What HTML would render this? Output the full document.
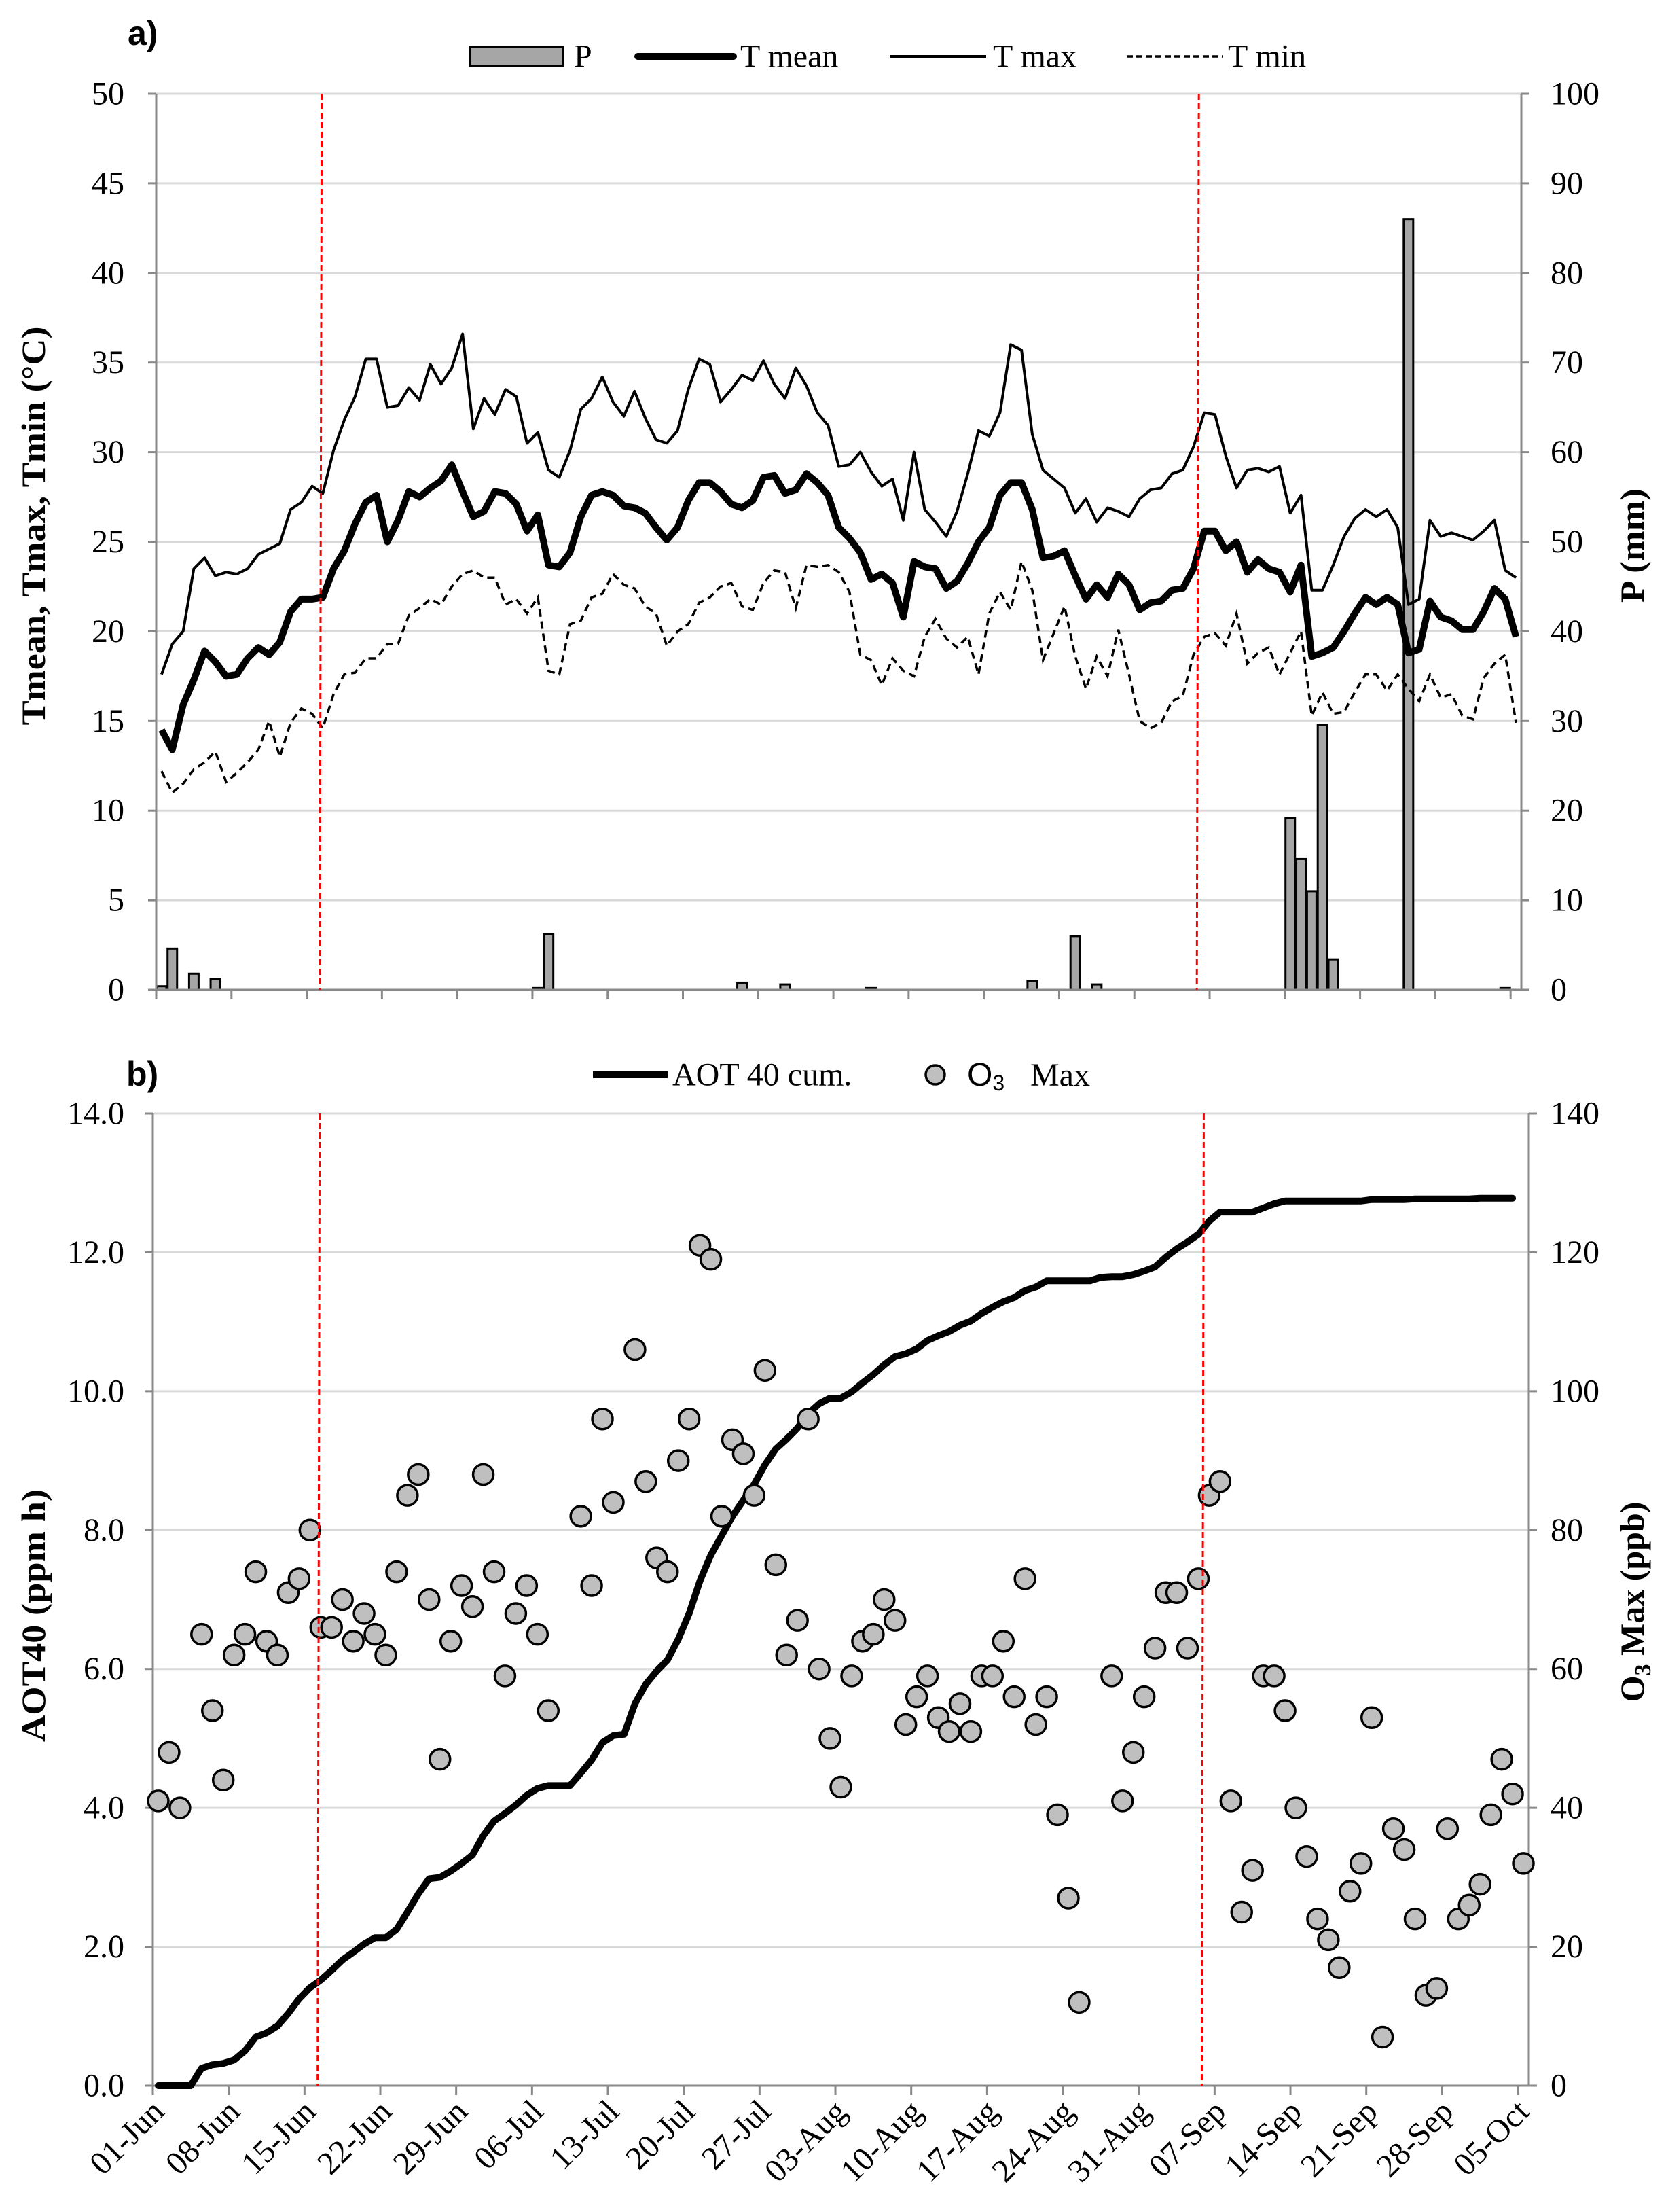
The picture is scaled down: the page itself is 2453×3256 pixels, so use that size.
<!DOCTYPE html>
<html><head><meta charset="utf-8"><style>
html,body{margin:0;padding:0;background:#fff;}
svg{display:block;}
text{font-family:"Liberation Serif",serif;fill:#000;}
</style></head><body>
<svg id="chart" xmlns="http://www.w3.org/2000/svg" width="2453" height="3256" viewBox="0 0 2453 3256">
<rect x="0" y="0" width="2453" height="3256" fill="#fff"/>
<text x="188" y="66" style="font-family:'Liberation Sans',sans-serif;font-weight:bold;font-size:50px">a)</text>
<text x="186" y="1598" style="font-family:'Liberation Sans',sans-serif;font-weight:bold;font-size:50px">b)</text>
</svg>
<script>
const days = 127;
const xTickLabels = ["01-Jun","08-Jun","15-Jun","22-Jun","29-Jun","06-Jul","13-Jul","20-Jul","27-Jul","03-Aug","10-Aug","17-Aug","24-Aug","31-Aug","07-Sep","14-Sep","21-Sep","28-Sep","05-Oct"];
const tempTicks = [0,5,10,15,20,25,30,35,40,45,50];
const precipTicks = [0,10,20,30,40,50,60,70,80,90,100];
const aotTicks = ["0.0","2.0","4.0","6.0","8.0","10.0","12.0","14.0"];
const o3Ticks = [0,20,40,60,80,100,120,140];
const phaseDays = [14.9, 96.5];
const tMean = [14.5,13.4,15.9,17.3,18.9,18.3,17.5,17.6,18.5,19.1,18.7,19.4,21.1,21.8,21.8,21.9,23.5,24.5,26.0,27.2,27.6,25.0,26.2,27.8,27.5,28.0,28.4,29.3,27.8,26.4,26.7,27.8,27.7,27.1,25.6,26.5,23.7,23.6,24.4,26.4,27.6,27.8,27.6,27.0,
26.9,26.6,25.8,25.1,25.8,27.3,28.3,28.3,27.8,27.1,26.9,27.3,28.6,28.7,27.7,27.9,28.8,28.3,27.6,25.8,25.2,24.4,22.9,23.2,22.7,20.8,23.9,23.6,23.5,22.4,22.8,23.8,25.0,25.8,27.6,28.3,28.3,26.8,24.1,24.2,24.5,23.1,21.8,
22.6,21.9,23.2,22.6,21.2,21.6,21.7,22.3,22.4,23.5,25.6,25.6,24.5,25.0,23.3,24.0,23.5,23.3,22.2,23.7,18.6,18.8,19.1,20.0,21.0,21.9,21.5,21.9,21.5,18.8,19.0,21.7,20.8,20.6,20.1,20.1,21.1,22.4,21.8,19.7];
const tMax = [17.6,19.3,20.0,23.5,24.1,23.1,23.3,23.2,23.5,24.3,24.6,24.9,26.8,27.2,28.1,27.7,30.1,31.8,33.1,35.2,35.2,32.5,32.6,33.6,32.9,34.9,33.8,34.7,36.6,31.3,33.0,32.1,33.5,33.1,30.5,31.1,29.0,28.6,30.1,32.4,33.0,34.2,32.8,32.0,
33.4,31.9,30.7,30.5,31.2,33.5,35.2,34.9,32.8,33.5,34.3,34.0,35.1,33.8,33.0,34.7,33.7,32.2,31.5,29.2,29.3,30.0,28.9,28.1,28.5,26.2,30.0,26.8,26.1,25.3,26.7,28.8,31.2,30.9,32.2,36.0,35.7,31.0,29.0,28.5,28.0,26.6,27.4,
26.1,26.9,26.7,26.4,27.4,27.9,28.0,28.8,29.0,30.3,32.2,32.1,29.8,28.0,29.0,29.1,28.9,29.2,26.6,27.6,22.3,22.3,23.7,25.3,26.3,26.8,26.4,26.8,25.8,21.5,21.8,26.2,25.3,25.5,25.3,25.1,25.6,26.2,23.4,23.0];
const tMin = [12.2,11.0,11.5,12.3,12.7,13.3,11.6,12.1,12.7,13.4,15.0,13.0,14.9,15.7,15.4,14.6,16.5,17.6,17.7,18.5,18.5,19.3,19.3,20.9,21.3,21.8,21.5,22.5,23.2,23.4,23.0,23.0,21.5,21.8,21.0,21.9,17.8,17.6,20.4,20.6,21.9,22.1,23.2,22.6,
22.4,21.4,21.0,19.2,20.0,20.4,21.6,21.9,22.5,22.7,21.4,21.2,22.7,23.4,23.3,21.3,23.7,23.6,23.7,23.3,22.2,18.7,18.4,17.0,18.5,17.8,17.5,19.7,20.7,19.6,19.1,19.7,17.6,21.0,22.2,21.2,23.9,22.3,18.4,19.9,21.4,18.6,16.8,
18.6,17.5,20.1,17.6,15.0,14.6,14.9,16.1,16.4,18.7,19.7,19.9,19.2,21.0,18.2,18.8,19.1,17.6,18.8,20.0,15.3,16.6,15.4,15.5,16.6,17.6,17.6,16.7,17.6,16.8,16.1,17.6,16.3,16.5,15.3,15.1,17.4,18.2,18.7,14.9];
const precip = [0.4,4.6,0,1.8,0,1.2,0,0,0,0,0,0,0,0,0,0,0,0,0,0,0,0,0,0,0,0,0,0,0,0,0,0,0,0,0,0.2,6.2,0,0,0,
0,0,0,0,0,0,0,0,0,0,0,0,0,0,0.8,0,0,0,0.6,0,0,0,0,0,0,0,0.2,0,0,0,0,0,0,0,0,0,0,0,0,0,
0,1.0,0,0,0,6.0,0,0.6,0,0,0,0,0,0,0,0,0,0,0,0,0,0,0,0,0,19.2,14.6,11.0,29.6,3.4,0,0,0,0,0,0,86,0,0,0,
0,0,0,0,0,0.2,0];
const o3Max = [41,48,40,null,65,54,44,62,65,74,64,62,71,73,80,66,66,70,64,68,65,62,74,85,88,70,47,64,72,69,88,74,59,68,72,65,54,null,null,82,72,96,84,
null,106,87,76,74,90,96,121,119,82,93,91,85,103,75,62,67,96,60,50,43,59,64,65,70,67,52,56,59,53,51,55,51,59,59,64,56,73,52,56,39,27,12,
null,null,59,41,48,56,63,71,71,63,73,85,87,41,25,31,59,59,54,40,33,24,21,17,28,32,53,7,37,34,24,13,14,37,24,26,29,39,47,42,32];
const aotCum = [0,0,0,0,0.25,0.3,0.32,0.37,0.5,0.7,0.76,0.86,1.04,1.25,1.41,1.52,1.66,1.81,1.92,2.04,2.13,2.13,2.25,2.5,2.76,2.98,3.0,3.09,3.2,3.32,3.6,3.81,3.92,4.04,4.18,4.28,4.32,4.32,4.32,4.5,4.69,4.94,5.04,5.06,5.5,
5.78,5.97,6.13,6.43,6.8,7.27,7.64,7.92,8.2,8.43,8.66,8.94,9.17,9.31,9.47,9.68,9.82,9.9,9.9,9.99,10.12,10.24,10.38,10.5,10.54,10.61,10.73,10.8,10.86,10.95,11.01,11.12,11.21,11.29,11.35,11.45,11.5,11.59,11.59,11.59,11.59,11.59,11.64,11.65,
11.65,11.68,11.73,11.79,11.93,12.05,12.15,12.26,12.45,12.58,12.58,12.58,12.58,12.64,12.7,12.74,12.74,12.74,12.74,12.74,12.74,12.74,12.74,12.76,12.76,12.76,12.76,12.77,12.77,12.77,12.77,12.77,12.77,12.78,12.78,12.78,12.78];

const NS = "http://www.w3.org/2000/svg";
const svg = document.getElementById("chart");
function mk(tag, attrs, parent){
  const e = document.createElementNS(NS, tag);
  for (const k in attrs) e.setAttribute(k, attrs[k]);
  (parent || svg).appendChild(e);
  return e;
}
const A = {l:230, r:2240, t:138, b:1457};
const B = {l:225, r:2251, t:1639, b:3070};
function xA(d){ return A.l + (d + 0.5) * (A.r - A.l) / days; }
function xB(d){ return B.l + (d + 0.5) * (B.r - B.l) / days; }
function yT(v){ return A.b - v / 50 * (A.b - A.t); }
function yP(v){ return A.b - v / 100 * (A.b - A.t); }
function yAot(v){ return B.b - v / 14 * (B.b - B.t); }
function yO3(v){ return B.b - v / 140 * (B.b - B.t); }

/* ---------- Panel A ---------- */
const gA = mk("g", {});


tempTicks.forEach((v, i) => {
  const y = yT(v);
  if (v > 0) {
    const g = mk("line", {x1:A.l, x2:A.r, y1:y, y2:y, stroke:"#d9d9d9", "stroke-width":3}, gA);
    
    
  }
  mk("line", {x1:A.l-12, x2:A.l, y1:y, y2:y, stroke:"#898989", "stroke-width":3}, gA);
  mk("line", {x1:A.r, x2:A.r+12, y1:y, y2:y, stroke:"#898989", "stroke-width":3}, gA);
  const t = mk("text", {x:183, y:y, "text-anchor":"end", "dominant-baseline":"central", "font-size":48}, gA);
  t.textContent = v;
  
  
  const t2 = mk("text", {x:2283, y:y, "text-anchor":"start", "dominant-baseline":"central", "font-size":48}, gA);
  t2.textContent = precipTicks[i];
  
  
});
for (let k = 0; k <= 18; k++) {
  const x = A.l + k * 7 * (A.r - A.l) / days;
  mk("line", {x1:x, x2:x, y1:A.b, y2:A.b+14, stroke:"#898989", "stroke-width":3}, gA);
}
precip.forEach((v, d) => {
  if (!v) return;
  const b = mk("rect", {x:xA(d)-7, y:yP(v), width:14, height:A.b-yP(v), fill:"#a6a6a6", stroke:"#000", "stroke-width":3}, gA);
  
  
});
mk("line", {x1:A.l, x2:A.l, y1:A.t, y2:A.b, stroke:"#898989", "stroke-width":3}, gA);
mk("line", {x1:A.r, x2:A.r, y1:A.t, y2:A.b, stroke:"#898989", "stroke-width":3}, gA);
mk("line", {x1:A.l, x2:A.r, y1:A.b, y2:A.b, stroke:"#898989", "stroke-width":3}, gA);
function pathFrom(arr, xf, yf){
  let s = "", pen = false;
  arr.forEach((v, d) => {
    if (v === null) { pen = false; return; }
    s += (pen ? "L" : "M") + xf(d).toFixed(1) + "," + yf(v).toFixed(1);
    pen = true;
  });
  return s;
}
const lmin = mk("path", {d:pathFrom(tMin, xA, yT), fill:"none", stroke:"#000", "stroke-width":3.5, "stroke-dasharray":"11,7"}, gA);


const lmax = mk("path", {d:pathFrom(tMax, xA, yT), fill:"none", stroke:"#000", "stroke-width":4, "stroke-linejoin":"round"}, gA);


const lmean = mk("path", {d:pathFrom(tMean, xA, yT), fill:"none", stroke:"#000", "stroke-width":10, "stroke-linejoin":"round"}, gA);


phaseDays.forEach(d => {
  const x = xA(d);
  const l = mk("line", {x1:x, x2:x-3, y1:A.t, y2:A.b, stroke:"#ff0000", "stroke-width":3, "stroke-dasharray":"9,5"}, gA);
  
  
});
const tA = mk("text", {transform:"translate(66,774) rotate(-90)", "text-anchor":"middle", "font-size":50, "font-weight":"bold", textLength:587, lengthAdjust:"spacingAndGlyphs"}, gA);
tA.textContent = "Tmean, Tmax, Tmin (°C)";


const tP = mk("text", {transform:"translate(2420,803) rotate(-90)", "text-anchor":"middle", "font-size":50, "font-weight":"bold", textLength:168, lengthAdjust:"spacingAndGlyphs"}, gA);
tP.textContent = "P (mm)";


// legend A
const legA = mk("g", {}, gA);


mk("rect", {x:692, y:69, width:137, height:28, fill:"#a6a6a6", stroke:"#000", "stroke-width":3}, legA);
mk("line", {x1:939, x2:1080, y1:83, y2:83, stroke:"#000", "stroke-width":10, "stroke-linecap":"round"}, legA);
mk("line", {x1:1311, x2:1452, y1:83, y2:83, stroke:"#000", "stroke-width":4}, legA);
mk("line", {x1:1659, x2:1800, y1:83, y2:83, stroke:"#000", "stroke-width":3.5, "stroke-dasharray":"9,5"}, legA);
[["P",845],["T mean",1090],["T max",1462],["T min",1808]].forEach(p => {
  const t = mk("text", {x:p[1], y:83, "dominant-baseline":"central", "font-size":48}, legA);
  t.textContent = p[0];
  
  
});

/* ---------- Panel B ---------- */
const gB = mk("g", {});


aotTicks.forEach((lab, i) => {
  const y = yAot(parseFloat(lab));
  if (i > 0) {
    const g = mk("line", {x1:B.l, x2:B.r, y1:y, y2:y, stroke:"#d9d9d9", "stroke-width":3}, gB);
    
    
  }
  mk("line", {x1:B.l-12, x2:B.l, y1:y, y2:y, stroke:"#898989", "stroke-width":3}, gB);
  mk("line", {x1:B.r, x2:B.r+12, y1:y, y2:y, stroke:"#898989", "stroke-width":3}, gB);
  const t = mk("text", {x:183, y:y, "text-anchor":"end", "dominant-baseline":"central", "font-size":48}, gB);
  t.textContent = lab;
  
  
  const t2 = mk("text", {x:2283, y:y, "text-anchor":"start", "dominant-baseline":"central", "font-size":48}, gB);
  t2.textContent = o3Ticks[i];
  
  
});
xTickLabels.forEach((lab, k) => {
  const x = B.l + k * 7 * (B.r - B.l) / days;
  mk("line", {x1:x, x2:x, y1:B.b, y2:B.b+14, stroke:"#898989", "stroke-width":3}, gB);
  const t = mk("text", {transform:"translate(" + (x+8) + "," + (B.b+30) + ") rotate(-45)", "text-anchor":"end", "dominant-baseline":"central", "font-size":48}, gB);
  t.textContent = lab;
  
  
});
mk("line", {x1:B.l, x2:B.l, y1:B.t, y2:B.b, stroke:"#898989", "stroke-width":3}, gB);
mk("line", {x1:B.r, x2:B.r, y1:B.t, y2:B.b, stroke:"#898989", "stroke-width":3}, gB);
mk("line", {x1:B.l, x2:B.r, y1:B.b, y2:B.b, stroke:"#898989", "stroke-width":3}, gB);
const aotLine = mk("path", {d:pathFrom(aotCum, xB, yAot), fill:"none", stroke:"#000", "stroke-width":10, "stroke-linejoin":"round", "stroke-linecap":"round"}, gB);


o3Max.forEach((v, d) => {
  if (v === null) return;
  const c = mk("ellipse", {cx:xB(d), cy:yO3(v), rx:15, ry:15, fill:"#bfbfbf", stroke:"#000", "stroke-width":3.5}, gB);
  
  
});
phaseDays.forEach(d => {
  const x = xB(d);
  const l = mk("line", {x1:x, x2:x-3, y1:B.t, y2:B.b, stroke:"#ff0000", "stroke-width":3, "stroke-dasharray":"9,5"}, gB);
  
  
});
const tB = mk("text", {transform:"translate(66,2378) rotate(-90)", "text-anchor":"middle", "font-size":50, "font-weight":"bold", textLength:372, lengthAdjust:"spacingAndGlyphs"}, gB);
tB.textContent = "AOT40 (ppm h)";


const tO = mk("text", {transform:"translate(2420,2358) rotate(-90)", "text-anchor":"middle", "font-size":50, "font-weight":"bold"}, gB);


const ts1 = mk("tspan", {}, tO); ts1.textContent = "O";
const ts2 = mk("tspan", {"font-size":34, dy:10}, tO); ts2.textContent = "3";
const ts3 = mk("tspan", {dy:-10}, tO); ts3.textContent = " Max (ppb)";
// legend B
const legB = mk("g", {}, gB);


mk("line", {x1:873, x2:983, y1:1582, y2:1582, stroke:"#000", "stroke-width":10}, legB);
const lt1 = mk("text", {x:990, y:1582, "dominant-baseline":"central", "font-size":48}, legB);
lt1.textContent = "AOT 40 cum.";


mk("ellipse", {cx:1377, cy:1582, rx:14, ry:14, fill:"#bfbfbf", stroke:"#000", "stroke-width":3.5}, legB);
const lt2 = mk("text", {x:1424, y:1582, "dominant-baseline":"central", "font-size":48, style:"font-family:'Liberation Sans',sans-serif"}, legB);


const a1 = mk("tspan", {}, lt2); a1.textContent = "O";
const a2 = mk("tspan", {"font-size":32, dy:12}, lt2); a2.textContent = "3";
const a3 = mk("tspan", {x:1517, dy:-12, style:"font-family:'Liberation Serif',serif"}, lt2); a3.textContent = "Max";
</script>
</body></html>
